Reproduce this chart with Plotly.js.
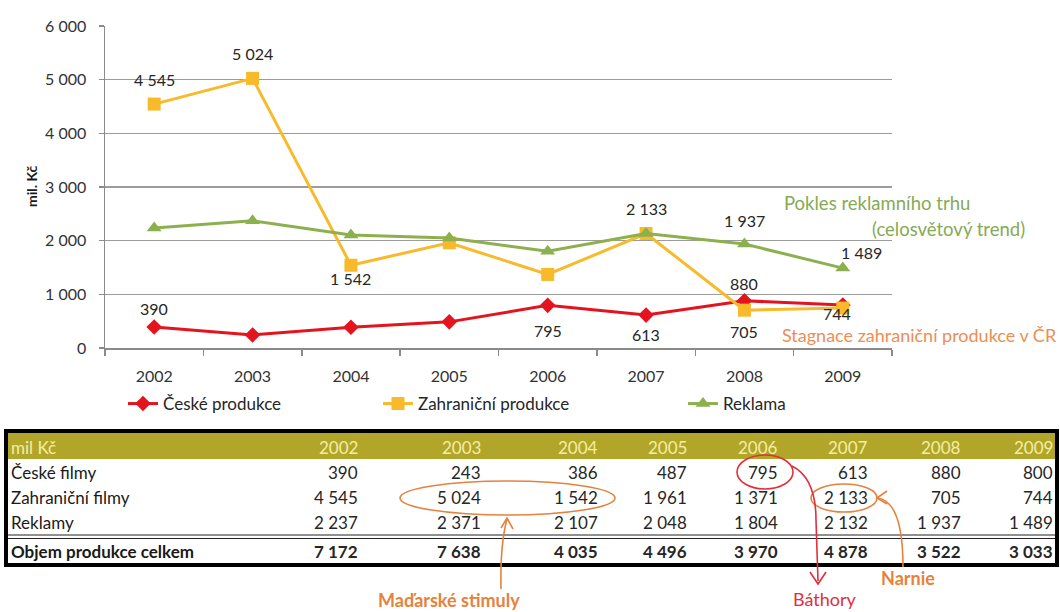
<!DOCTYPE html>
<html><head><meta charset="utf-8">
<script src="https://cdn.plot.ly/plotly-3.0.1.min.js"></script>
<style>html,body{margin:0;padding:0;background:#fff}</style>
</head><body><div id="chart" style="width:1060px;height:612px"></div>
<script>
// ---------- DATA ----------
const years = ['2002','2003','2004','2005','2006','2007','2008','2009'];
const ceskeProdukce = [390, 243, 386, 487, 795, 613, 880, 800];
const zahranicniProdukce = [4545, 5024, 1542, 1961, 1371, 2133, 705, 744];
const reklama = [2237, 2371, 2107, 2048, 1804, 2132, 1937, 1489];
const objemCelkem = [7172, 7638, 4035, 4496, 3970, 4878, 3522, 3033];
const seriesNames = ['České produkce', 'Zahraniční produkce', 'Reklama'];
const tableUnit = 'mil Kč';
const tableRowLabels = ['České filmy', 'Zahraniční filmy', 'Reklamy', 'Objem produkce celkem'];
const yAxisTitle = 'mil. Kč';
const noteReklama1 = 'Pokles reklamního trhu';
const noteReklama2 = '(celosvětový trend)';
const noteZahranicni = 'Stagnace zahraniční produkce v ČR';
const noteMadarske = 'Maďarské stimuly';
const noteBathory = 'Báthory';
const noteNarnie = 'Narnie';
// which points carry a value label: [series index, year index]
const labeledPoints = [[0,0],[0,4],[0,5],[0,6],[1,0],[1,1],[1,2],[1,5],[1,6],[1,7],[2,6],[2,7]];

// ---------- STYLE / POSITIONS ----------
const W = 1060, H = 612;
const px = x => x / W, py = y => 1 - y / H;
const FONT = 'Lato, "Open Sans", sans-serif';
const colors = ['#e3141e', '#f8b92a', '#8db04e'];
const symbols = ['diamond', 'square', 'triangle-up'];
const msizes = [12, 13, 13];
const labelShift = { // [xshift, yshift] per series/year key
  '0,0':[0,19], '0,4':[0,-25], '0,5':[0,-19], '0,6':[0,17],
  '1,0':[0,25], '1,1':[0,25], '1,2':[0,-13], '1,5':[0,25], '1,6':[0,-21], '1,7':[-6,-5],
  '2,6':[0,24], '2,7':[19,16]
};
const fmt = n => String(n).replace(/\B(?=(\d{3})+(?!\d))/g, ' ');

const allSeries = [ceskeProdukce, zahranicniProdukce, reklama];
const legendIds = ['legend', 'legend2', 'legend3'];
const traces = allSeries.map((vals, i) => ({
  type: 'scatter', mode: 'lines+markers', x: years, y: vals, name: seriesNames[i],
  line: {color: colors[i], width: 3},
  marker: {color: colors[i], symbol: symbols[i], size: msizes[i]},
  legend: legendIds[i], hoverinfo: 'x+y+name'
}));

const annotations = [];
labeledPoints.forEach(([s, k]) => {
  const sh = labelShift[s + ',' + k] || [0, 18];
  annotations.push({x: k, y: allSeries[s][k], xref: 'x', yref: 'y', text: fmt(allSeries[s][k]),
    xanchor:'center', yanchor:'middle',
    showarrow: false, xshift: sh[0], yshift: sh[1], font: {family: FONT, size: 16, color: '#262626'}});
});
const noteFont = c => ({family:FONT, size:18.5, color:c});
// side notes
annotations.push({xref:'paper', yref:'paper', x: px(782), y: py(203), xanchor:'left', yanchor:'middle', showarrow:false,
  text: noteReklama1, font: noteFont('#86aa55')});
annotations.push({xref:'paper', yref:'paper', x: px(1027), y: py(229), xanchor:'right', yanchor:'middle', showarrow:false,
  text: noteReklama2, font: noteFont('#86aa55')});
annotations.push({xref:'paper', yref:'paper', x: px(1059), y: py(335), xanchor:'right', yanchor:'middle', showarrow:false,
  text: noteZahranicni, font: {family:FONT, size:18, color:'#ec8e55'}});
// y title
annotations.push({xref:'paper', yref:'paper', x: px(31), y: py(186), xanchor:'center', yanchor:'middle', textangle:-90, showarrow:false,
  text: '<b>' + yAxisTitle + '</b>', font:{family:FONT, size:14, color:'#1a1a1a'}});

// table
const colRight = [360, 483, 600, 689, 780, 870, 963, 1055];
const rowY = [447, 472, 497, 522, 551];
const tableRows = [ceskeProdukce, zahranicniProdukce, reklama, objemCelkem];
const TF = 17;
annotations.push({xref:'paper', yref:'paper', x: px(9), y: py(rowY[0]), xanchor:'left', yanchor:'middle', showarrow:false,
  text: tableUnit, font:{family:FONT, size:TF, color:'#f3efa2'}});
years.forEach((yr, k) => annotations.push({xref:'paper', yref:'paper', x: px(colRight[k]), y: py(rowY[0]), xanchor:'right', yanchor:'middle',
  showarrow:false, text: yr, font:{family:FONT, size:TF, color:'#f3efa2'}}));
tableRows.forEach((row, r) => {
  const bold = r === 3;
  const wrap = t => bold ? '<b>' + t + '</b>' : t;
  annotations.push({xref:'paper', yref:'paper', x: px(9), y: py(rowY[r+1]), xanchor:'left', yanchor:'middle', showarrow:false,
    text: wrap(tableRowLabels[r]), font:{family:FONT, size:TF, color:'#1a1a1a'}});
  row.forEach((v, k) => annotations.push({xref:'paper', yref:'paper', x: px(colRight[k]), y: py(rowY[r+1]), xanchor:'right', yanchor:'middle',
    showarrow:false, text: wrap(fmt(v)), font:{family:FONT, size:TF, color: '#262626'}}));
});
// table callouts
annotations.push({xref:'paper', yref:'paper', x: px(449), y: py(600), xanchor:'center', yanchor:'middle', showarrow:false,
  text: '<b>' + noteMadarske + '</b>', font:{family:FONT, size:18, color:'#e5823d'}});
annotations.push({xref:'paper', yref:'paper', x: px(825), y: py(599), xanchor:'center', yanchor:'middle', showarrow:false,
  text: noteBathory, font:{family:FONT, size:18, color:'#e0303c'}});
annotations.push({xref:'paper', yref:'paper', x: px(908), y: py(578), xanchor:'center', yanchor:'middle', showarrow:false,
  text: '<b>' + noteNarnie + '</b>', font:{family:FONT, size:18, color:'#e5823d'}});

const P = (x, y) => px(x).toFixed(5) + ',' + py(y).toFixed(5);
const shapes = [
  {type:'rect', xref:'paper', yref:'paper', x0:px(8), x1:px(1055), y0:py(433), y1:py(459), fillcolor:'#b1a62a', line:{width:0}, layer:'below'},
  {type:'rect', xref:'paper', yref:'paper', x0:px(6), x1:px(1057), y0:py(431), y1:py(565), line:{color:'#000', width:4}},
  {type:'line', xref:'paper', yref:'paper', x0:px(8), x1:px(1055), y0:py(535), y1:py(535), line:{color:'#222', width:1.2}},
  {type:'line', xref:'paper', yref:'paper', x0:px(8), x1:px(1055), y0:py(538.5), y1:py(538.5), line:{color:'#222', width:1.2}},
  // ellipses
  {type:'circle', xref:'paper', yref:'paper', x0:px(400), x1:px(615), y0:py(481), y1:py(515), line:{color:'#e5823d', width:1.6}},
  {type:'circle', xref:'paper', yref:'paper', x0:px(737), x1:px(793), y0:py(455), y1:py(489), line:{color:'#e0303c', width:1.6}},
  {type:'circle', xref:'paper', yref:'paper', x0:px(811), x1:px(877), y0:py(484), y1:py(512), line:{color:'#e5823d', width:1.6}},
  // arrows
  {type:'path', xref:'paper', yref:'paper', path:'M' + P(501,589) + ' Q' + P(500,545) + ' ' + P(507,519), line:{color:'#e5823d', width:1.6}},
  {type:'path', xref:'paper', yref:'paper', path:'M' + P(501,528) + ' L' + P(507,518) + ' L' + P(513,529), line:{color:'#e5823d', width:1.6}},
  {type:'path', xref:'paper', yref:'paper', path:'M' + P(792,466) + ' Q' + P(816,478) + ' ' + P(816,520) + ' L' + P(818,581), line:{color:'#e0303c', width:1.6}},
  {type:'path', xref:'paper', yref:'paper', path:'M' + P(810,572) + ' L' + P(818,584) + ' L' + P(826,572), line:{color:'#e0303c', width:1.6}},
  {type:'path', xref:'paper', yref:'paper', path:'M' + P(903,567) + ' Q' + P(903,502) + ' ' + P(878,498), line:{color:'#e5823d', width:1.6}},
  {type:'path', xref:'paper', yref:'paper', path:'M' + P(887,491) + ' L' + P(877,498) + ' L' + P(887,504), line:{color:'#e5823d', width:1.6}}
];

const legendCommon = {orientation:'h', yanchor:'middle', xanchor:'left', bgcolor:'rgba(0,0,0,0)',
  font:{family:FONT, size:17, color:'#262626'}, y: py(404)};
const layout = {
  width: W, height: H, margin:{l:0, r:0, t:0, b:0},
  paper_bgcolor:'#fff', plot_bgcolor:'#fff',
  separators: ', ',
  font:{family:FONT, size:16, color:'#262626'},
  xaxis:{type:'category', domain:[px(105), px(892)], range:[-0.5, 7.5], tickson:'boundaries',
    ticks:'outside', ticklen:6, tickcolor:'#8a8a8a', tickwidth:1.5, showline:true, linecolor:'#8a8a8a', linewidth:1.5,
    showgrid:false, automargin:false, ticklabelstandoff:13, tickfont:{family:FONT, size:16, color:'#333'}},
  yaxis:{domain:[py(348), py(26)], range:[0, 6000], dtick:1000, tickformat:',d', ticks:'outside', ticklen:5,
    tickcolor:'#8a8a8a', tickwidth:1.5, showline:true, linecolor:'#8a8a8a', linewidth:1.5,
    gridcolor:'#9c9c9c', gridwidth:1.5, zeroline:false, automargin:false, ticklabelstandoff:9,
    tickfont:{family:FONT, size:16, color:'#333'}},
  showlegend:true,
  legend: Object.assign({}, legendCommon, {x: px(123)}),
  legend2: Object.assign({}, legendCommon, {x: px(378)}),
  legend3: Object.assign({}, legendCommon, {x: px(683)}),
  annotations, shapes
};
Plotly.newPlot('chart', traces, layout, {displayModeBar:false, staticPlot:true});
</script></body></html>
